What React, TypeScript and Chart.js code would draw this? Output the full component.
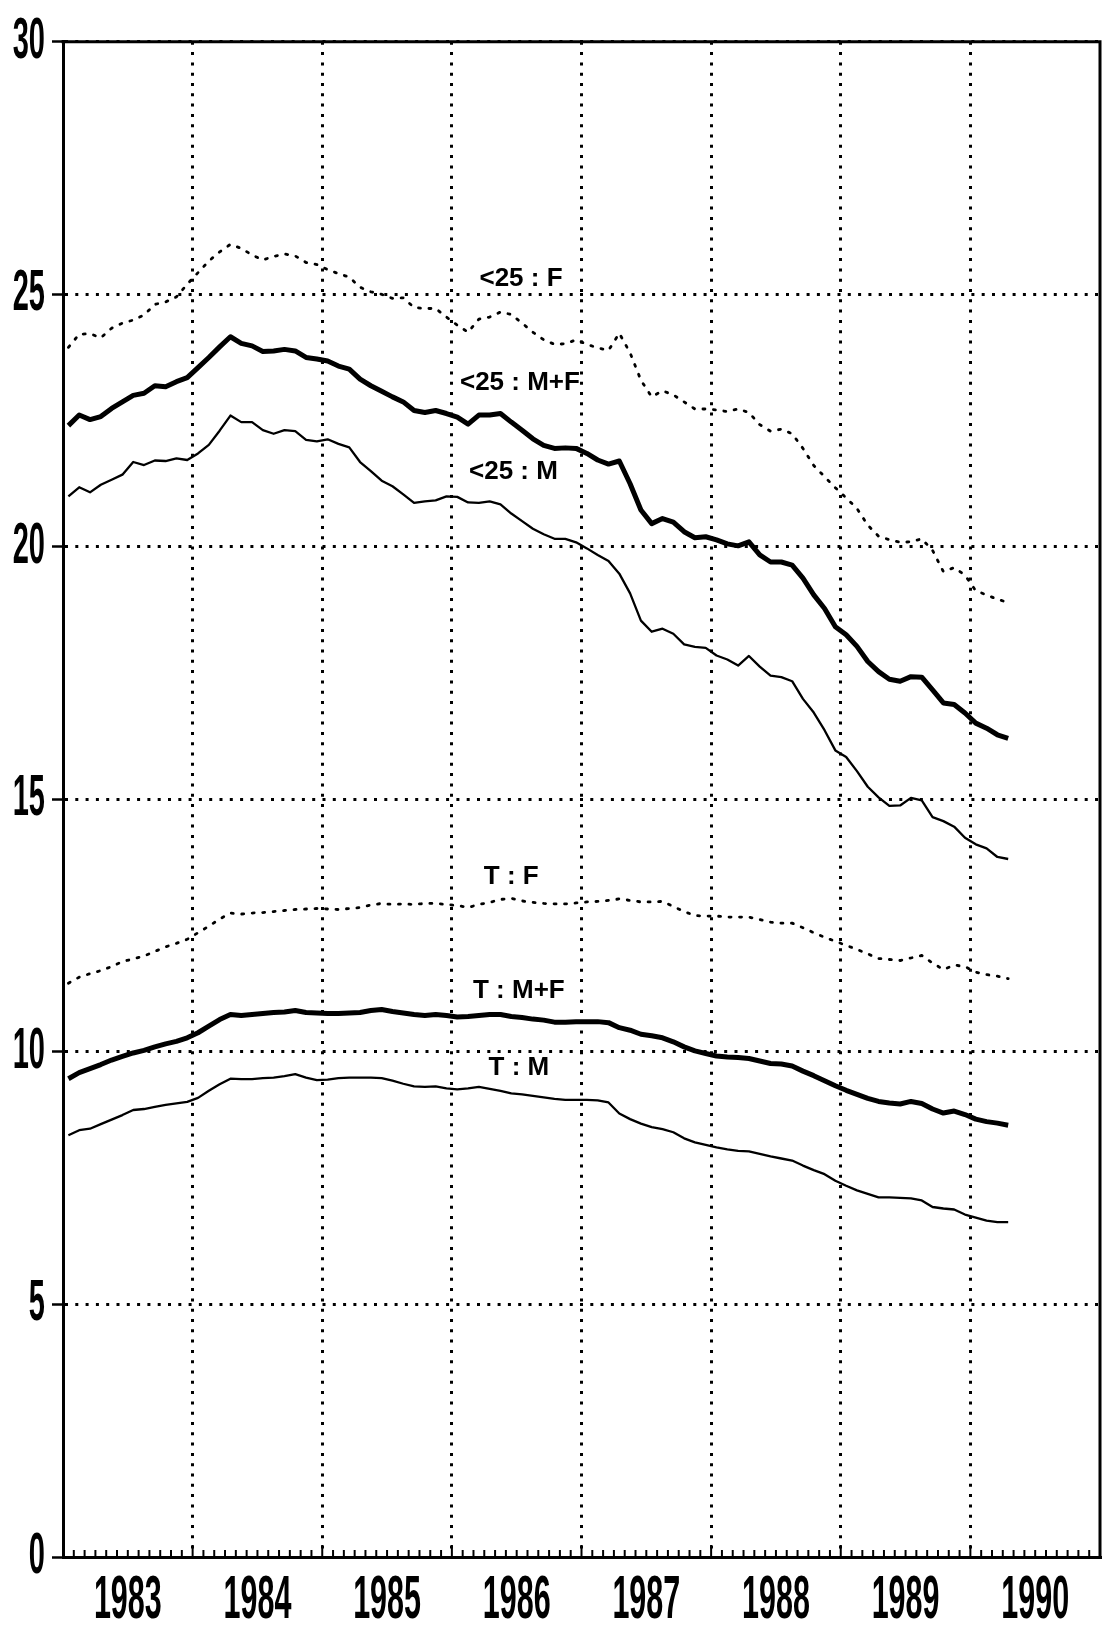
import React, { useEffect, useRef } from 'react';
import { Chart, registerables, LinearScale } from 'chart.js';

// ---------------- data ----------------
const yearLabels = ['1983', '1984', '1985', '1986', '1987', '1988', '1989', '1990'];

// monthly values, Jan 1983 .. Apr 1990
const under25F = [
  23.95, 24.21, 24.22, 24.14, 24.33, 24.43, 24.49, 24.59, 24.8, 24.85, 24.95, 25.2,
  25.43, 25.66, 25.84, 25.99, 25.91, 25.78, 25.68, 25.75, 25.8, 25.76, 25.63, 25.59,
  25.49, 25.41, 25.34, 25.14, 25.05, 25.0, 24.92, 24.93, 24.74, 24.72, 24.72, 24.55,
  24.39, 24.25, 24.51, 24.55, 24.65, 24.6, 24.43, 24.25, 24.1, 24.01, 24.02, 24.1,
  24.01, 23.94, 23.89, 24.23, 23.84, 23.3, 22.97, 23.09, 23.01, 22.87, 22.73, 22.73,
  22.71, 22.68, 22.73, 22.66, 22.42, 22.29, 22.33, 22.24, 21.95, 21.61, 21.39, 21.17,
  20.97, 20.76, 20.43, 20.21, 20.14, 20.09, 20.1, 20.16, 19.93, 19.51, 19.59, 19.44,
  19.13, 19.05, 18.96, 18.9,
];
const under25MF = [
  22.4, 22.61, 22.52, 22.58, 22.74, 22.87, 23.0, 23.04, 23.19, 23.17, 23.27, 23.35,
  23.55, 23.75, 23.96, 24.16, 24.03, 23.98, 23.87, 23.88, 23.91, 23.88, 23.75, 23.72,
  23.68, 23.58, 23.52, 23.32, 23.19, 23.08, 22.97, 22.87, 22.7, 22.66, 22.7, 22.64,
  22.57, 22.43, 22.61, 22.61, 22.64, 22.47, 22.31, 22.14, 22.01, 21.95, 21.96, 21.95,
  21.85, 21.72, 21.64, 21.7, 21.25, 20.73, 20.46, 20.56, 20.49, 20.3, 20.18, 20.2,
  20.14, 20.06, 20.02, 20.1, 19.84, 19.7, 19.7, 19.64, 19.38, 19.05, 18.78, 18.42,
  18.26, 18.03, 17.73, 17.53, 17.38, 17.34, 17.43, 17.42, 17.17, 16.91, 16.88, 16.71,
  16.51, 16.41, 16.28, 16.21,
];
const under25M = [
  21.0, 21.18, 21.08, 21.23, 21.33, 21.43, 21.68, 21.62, 21.71, 21.7, 21.75, 21.72,
  21.85, 22.02, 22.3, 22.6, 22.47, 22.47, 22.31, 22.24, 22.31, 22.29, 22.12, 22.09,
  22.13, 22.04, 21.97, 21.68, 21.5, 21.31, 21.2, 21.04, 20.87, 20.9, 20.92, 21.0,
  20.99, 20.88, 20.87, 20.9, 20.84, 20.66, 20.51, 20.36, 20.25, 20.16, 20.16, 20.09,
  19.97, 19.84, 19.72, 19.47, 19.08, 18.54, 18.32, 18.38, 18.28, 18.07, 18.02, 18.0,
  17.85, 17.77, 17.65, 17.84, 17.63, 17.45, 17.42, 17.34, 16.99, 16.72, 16.37, 15.97,
  15.84, 15.56, 15.25, 15.04, 14.87, 14.88, 15.03, 14.98, 14.65, 14.57, 14.46, 14.24,
  14.11, 14.03, 13.86, 13.82,
];
const totalF = [
  11.36, 11.48, 11.55, 11.61, 11.69, 11.79, 11.84, 11.9, 11.99, 12.08, 12.15, 12.23,
  12.36, 12.49, 12.63, 12.75, 12.73, 12.75, 12.76, 12.78, 12.8, 12.82, 12.83, 12.84,
  12.83, 12.82, 12.84, 12.86, 12.91, 12.94, 12.92, 12.93, 12.92, 12.94, 12.94, 12.92,
  12.9, 12.86, 12.92, 12.96, 13.02, 13.04, 12.99, 12.96, 12.94, 12.93, 12.93, 12.95,
  12.97, 12.98, 13.0, 13.03, 13.0, 12.97, 12.97, 12.98, 12.88, 12.78, 12.7, 12.69,
  12.69, 12.67, 12.67, 12.67, 12.62, 12.57, 12.55, 12.55, 12.46, 12.36, 12.27, 12.19,
  12.11, 12.03, 11.94, 11.85, 11.83, 11.81, 11.86, 11.91, 11.76, 11.63, 11.72, 11.69,
  11.58, 11.53, 11.5, 11.45,
];
const totalMF = [
  9.47, 9.59, 9.67, 9.75, 9.84, 9.91, 9.98, 10.03, 10.1, 10.16, 10.21, 10.28,
  10.38, 10.51, 10.64, 10.74, 10.72, 10.74, 10.76, 10.78, 10.79, 10.82, 10.78, 10.77,
  10.76, 10.76, 10.77, 10.78, 10.82, 10.84, 10.8, 10.77, 10.74, 10.72, 10.74, 10.72,
  10.69, 10.7, 10.72, 10.74, 10.74, 10.7, 10.68, 10.65, 10.63, 10.59, 10.59, 10.6,
  10.6, 10.6, 10.58, 10.48, 10.43, 10.35, 10.32, 10.28, 10.2, 10.1, 10.02, 9.97,
  9.92, 9.9, 9.89, 9.87, 9.82, 9.77, 9.76, 9.72, 9.62, 9.53, 9.43, 9.33,
  9.24, 9.16, 9.08, 9.02, 8.99, 8.97, 9.02, 8.98, 8.87, 8.79, 8.83, 8.76,
  8.67, 8.62, 8.59, 8.55,
];
const totalM = [
  8.35, 8.45, 8.48, 8.57, 8.66, 8.75, 8.85, 8.87, 8.91, 8.95, 8.98, 9.01,
  9.09, 9.23, 9.36, 9.47, 9.46, 9.46, 9.48, 9.49, 9.52, 9.56, 9.49, 9.44,
  9.45, 9.48, 9.49, 9.49, 9.49, 9.48, 9.43, 9.37, 9.32, 9.31, 9.32, 9.28,
  9.26, 9.28, 9.31, 9.27, 9.23, 9.18, 9.16, 9.13, 9.1, 9.07, 9.05, 9.05,
  9.05, 9.04, 9.0, 8.78, 8.67, 8.58, 8.51, 8.47, 8.41, 8.29, 8.21, 8.16,
  8.11, 8.07, 8.04, 8.03, 7.98, 7.93, 7.89, 7.85, 7.75, 7.66, 7.58, 7.45,
  7.35, 7.26, 7.19, 7.12, 7.12, 7.11, 7.1, 7.06, 6.93, 6.9, 6.88, 6.78,
  6.72, 6.66, 6.63, 6.63,
];

// in-plot series labels (x in months since Jan 1983, y in %)
const seriesLabels = [
  { text: '<25 : F', x: 42.4, y: 25.34 },
  { text: '<25 : M+F', x: 42.3, y: 23.29 },
  { text: '<25 : M', x: 41.7, y: 21.53 },
  { text: 'T : F', x: 41.5, y: 13.51 },
  { text: 'T : M+F', x: 42.2, y: 11.26 },
  { text: 'T : M', x: 42.2, y: 9.72 },
];

// ---------------- condensed tick labels ----------------
const NARROW = 0.5;
const AXIS_FONT = '"Liberation Sans", Arial, sans-serif';

class NarrowLinearScale extends (LinearScale as any) {
  static id = 'narrowLinear';
  static defaults = (LinearScale as any).defaults;
  drawLabels(chartArea: any) {
    const self: any = this;
    if (!self.options.ticks.display) return;
    const ctx = self.ctx;
    const items = self.getLabelItems(chartArea);
    for (const item of items) {
      const o = item.options;
      const label = item.label;
      if (label === '' || label == null) continue;
      const [tx, ty] = o.translation;
      ctx.save();
      ctx.translate(tx, ty);
      if (o.rotation) ctx.rotate(o.rotation);
      ctx.scale(NARROW, 1);
      ctx.font = item.font.string;
      ctx.fillStyle = o.color;
      ctx.textAlign = o.textAlign;
      ctx.textBaseline = o.textBaseline;
      ctx.fillText(String(label), 0, item.textOffset);
      ctx.restore();
    }
  }
}

Chart.register(...registerables, NarrowLinearScale as any);

const decorPlugin = {
  id: 'decor',
  afterDraw(chart: any) {
    const { ctx, chartArea: a, scales } = chart;
    const xs = scales.x;
    const ys = scales.y;
    ctx.save();
    ctx.strokeStyle = '#000';
    ctx.lineWidth = 3;
    ctx.beginPath();
    ctx.moveTo(a.left - 1.5, a.top);
    ctx.lineTo(a.right, a.top);
    ctx.lineTo(a.right, a.bottom + 1.5);
    ctx.stroke();
    ctx.lineWidth = 2;
    for (let m = 1; m < 96; m++) {
      const x = xs.getPixelForValue(m);
      const len = m % 12 === 0 ? 12 : 7;
      ctx.beginPath();
      ctx.moveTo(x, a.bottom);
      ctx.lineTo(x, a.bottom - len);
      ctx.stroke();
    }
    ctx.fillStyle = '#000';
    ctx.font = 'bold 26px "Liberation Sans", Arial, sans-serif';
    ctx.textAlign = 'center';
    ctx.textBaseline = 'alphabetic';
    for (const l of seriesLabels) {
      ctx.fillText(l.text, xs.getPixelForValue(l.x), ys.getPixelForValue(l.y) + 9.3);
    }
    ctx.restore();
  },
};

function series(label: string, values: number[], width: number, dash: number[]) {
  return {
    label,
    data: values.map((v, i) => ({ x: i + 0.5, y: v })),
    borderColor: '#000',
    backgroundColor: '#000',
    borderWidth: width,
    borderDash: dash,
    borderCapStyle: dash.length ? 'round' : 'butt',
    borderJoinStyle: 'round',
    pointRadius: 0,
    fill: false,
    tension: 0,
  };
}

const GRID_DASH = [3, 7.3];

export default function App() {
  const ref = useRef<HTMLCanvasElement>(null);
  useEffect(() => {
    const chart = new Chart(ref.current as HTMLCanvasElement, {
      type: 'line',
      data: {
        datasets: [
          series('<25 : F', under25F, 2.8, [2, 8.5]),
          series('<25 : M+F', under25MF, 5, []),
          series('<25 : M', under25M, 2.3, []),
          series('T : F', totalF, 2.8, [2, 8.5]),
          series('T : M+F', totalMF, 5, []),
          series('T : M', totalM, 2.3, []),
        ] as any,
      },
      options: {
        responsive: false,
        maintainAspectRatio: false,
        animation: false,
        devicePixelRatio: 1,
        layout: { padding: { top: 38, right: 4, left: 0, bottom: 0 } },
        plugins: { legend: { display: false }, tooltip: { enabled: false } },
        scales: {
          x: {
            type: 'narrowLinear' as any,
            position: 'bottom',
            min: 0,
            max: 96,
            ticks: {
              stepSize: 6,
              autoSkip: false,
              maxRotation: 0,
              minRotation: 0,
              padding: 8,
              color: '#000',
              font: { family: AXIS_FONT, size: 61, weight: 'bold' },
              callback: (v: any) => {
                const n = Number(v);
                return n % 12 === 6 ? yearLabels[(n - 6) / 12] : '';
              },
            },
            grid: {
              color: (c: any) => {
                const v = c.tick ? c.tick.value : 0;
                return v % 12 === 0 && v > 0 && v < 96 ? '#000' : 'rgba(0,0,0,0)';
              },
              lineWidth: 3,
              drawTicks: false,
            },
            border: { display: true, color: '#000', width: 3, dash: GRID_DASH },
            afterFit: (s: any) => {
              s.height = 73;
            },
          } as any,
          y: {
            type: 'narrowLinear' as any,
            min: 0,
            max: 30,
            ticks: {
              stepSize: 5,
              padding: 7,
              color: '#000',
              font: { family: AXIS_FONT, size: 58, weight: 'bold' },
              callback: (v: any) => String(v),
            },
            grid: {
              color: '#000',
              lineWidth: 3,
              drawTicks: true,
              tickLength: 11,
              tickWidth: 2.5,
              tickColor: '#000',
              tickBorderDash: [],
            },
            border: { display: true, color: '#000', width: 3, dash: GRID_DASH },
            afterFit: (s: any) => {
              s.width = 63;
            },
          } as any,
        },
      },
      plugins: [decorPlugin as any],
    });
    return () => chart.destroy();
  }, []);
  return (
    <div style={{ position: 'absolute', left: 0, top: 0, width: 1108, height: 1630, background: '#fff' }}>
      <canvas ref={ref} width={1108} height={1630} style={{ display: 'block', width: 1108, height: 1630 }} />
    </div>
  );
}
